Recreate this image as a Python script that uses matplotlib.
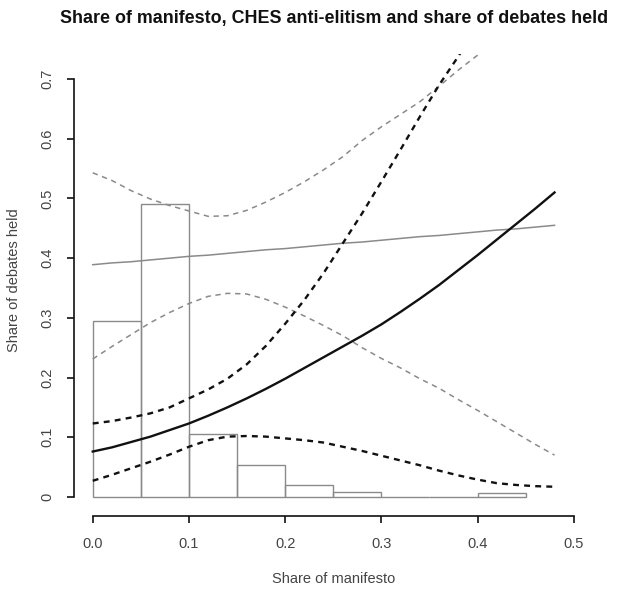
import matplotlib
matplotlib.use("Agg")
import matplotlib.pyplot as plt

plt.rcParams['font.family'] = ['Liberation Sans', 'DejaVu Sans']

# ---- data ----
bin_left = [0.00, 0.05, 0.10, 0.15, 0.20, 0.25, 0.30, 0.35, 0.40]
bin_height = [0.295, 0.490, 0.105, 0.054, 0.020, 0.008, 0.0, 0.0, 0.006]

x_grid = [0.00, 0.02, 0.04, 0.06, 0.08, 0.10, 0.12, 0.14, 0.16, 0.18, 0.20, 0.22,
          0.24, 0.26, 0.28, 0.30, 0.32, 0.34, 0.36, 0.38, 0.40, 0.42, 0.44, 0.46, 0.48]

# black: predicted share and its interval
black_fit = [0.076, 0.083, 0.092, 0.101, 0.112, 0.123, 0.136, 0.150, 0.165, 0.181, 0.198, 0.216,
             0.234, 0.252, 0.270, 0.289, 0.310, 0.332, 0.355, 0.380, 0.405, 0.431, 0.457, 0.483, 0.510]
black_upper = [0.123, 0.127, 0.133, 0.140, 0.150, 0.165, 0.180, 0.198, 0.222, 0.253, 0.290, 0.330,
               0.375, 0.425, 0.475, 0.528, 0.582, 0.637, 0.690, 0.738, 0.790, 0.840, 0.890, 0.940, 0.990]
black_lower = [0.027, 0.037, 0.048, 0.059, 0.071, 0.084, 0.095, 0.101, 0.102, 0.101, 0.098, 0.095,
               0.091, 0.084, 0.077, 0.069, 0.061, 0.053, 0.044, 0.036, 0.029, 0.023, 0.020, 0.018, 0.017]

# grey: second model and its interval
grey_fit = [0.389, 0.392, 0.394, 0.397, 0.400, 0.403, 0.405, 0.408, 0.411, 0.414, 0.416, 0.419,
            0.422, 0.425, 0.427, 0.430, 0.433, 0.436, 0.438, 0.441, 0.444, 0.447, 0.449, 0.452, 0.455]
grey_upper = [0.543, 0.530, 0.513, 0.499, 0.488, 0.479, 0.470, 0.471, 0.480, 0.494, 0.510, 0.528,
              0.548, 0.570, 0.597, 0.620, 0.641, 0.662, 0.688, 0.715, 0.740, 0.770, 0.800, 0.830, 0.860]
grey_lower = [0.231, 0.252, 0.272, 0.292, 0.309, 0.324, 0.336, 0.341, 0.340, 0.331, 0.318, 0.303,
              0.287, 0.270, 0.250, 0.232, 0.216, 0.198, 0.182, 0.163, 0.145, 0.126, 0.107, 0.088, 0.070]

x_ticks = [0.0, 0.1, 0.2, 0.3, 0.4, 0.5]
x_ticklabels = ["0.0", "0.1", "0.2", "0.3", "0.4", "0.5"]
y_ticks = [0.0, 0.1, 0.2, 0.3, 0.4, 0.5, 0.6, 0.7]
y_ticklabels = ["0", "0.1", "0.2", "0.3", "0.4", "0.5", "0.6", "0.7"]

title = "Share of manifesto, CHES anti-elitism and share of debates held"
xlabel = "Share of manifesto"
ylabel = "Share of debates held"

# ---- figure ----
fig = plt.figure(figsize=(6.29, 5.96), dpi=100)
ax = fig.add_axes([73.5 / 629, 1 - 516 / 596, (593 - 73.5) / 629, (516 - 54) / 596])
ax.set_xlim(-0.02, 0.52)
ax.set_ylim(-0.032, 0.742)

grey = "#8a8a8a"
ax.bar(bin_left, bin_height, width=0.05, align="edge", fill=False,
       edgecolor=grey, linewidth=1.0, zorder=1)

ax.plot(x_grid, grey_fit, color=grey, lw=1.1, zorder=2)
ax.plot(x_grid, grey_upper, color=grey, lw=1.1, dashes=(3.5, 3), zorder=2)
ax.plot(x_grid, grey_lower, color=grey, lw=1.1, dashes=(3.5, 3), zorder=2)

ax.plot(x_grid, black_fit, color="#111111", lw=1.7, zorder=3)
ax.plot(x_grid, black_upper, color="#111111", lw=1.7, dashes=(2.5, 2.2), zorder=3)
ax.plot(x_grid, black_lower, color="#111111", lw=1.7, dashes=(2.5, 2.2), zorder=3)

for s in ("top", "right"):
    ax.spines[s].set_visible(False)
ax.spines["left"].set_bounds(0, 0.7)
ax.spines["bottom"].set_bounds(0, 0.5)
for s in ("left", "bottom"):
    ax.spines[s].set_linewidth(1.2)
    ax.spines[s].set_color("#111111")

ax.set_xticks(x_ticks)
ax.set_xticklabels(x_ticklabels)
ax.set_yticks(y_ticks)
ax.set_yticklabels(y_ticklabels, rotation=90, va="center")
ax.tick_params(axis="both", direction="out", length=5, width=1.2, color="#111111",
               labelsize=10.5, labelcolor="#444444")
ax.tick_params(axis="x", pad=10)
ax.tick_params(axis="y", pad=9)

fig.text(0.5 * (73.5 + 593) / 629, 1 - 579 / 596, xlabel, ha="center", va="center",
         fontsize=10.5, color="#444444")
fig.text(14 / 629, 1 - 280 / 596, ylabel, ha="center", va="center", rotation=90,
         fontsize=10.5, color="#444444")
fig.text(334 / 629, 1 - 18 / 596, title, ha="center", va="center",
         fontsize=12.9, fontweight="bold", color="#111111")

fig.savefig("out.png", dpi=100)
